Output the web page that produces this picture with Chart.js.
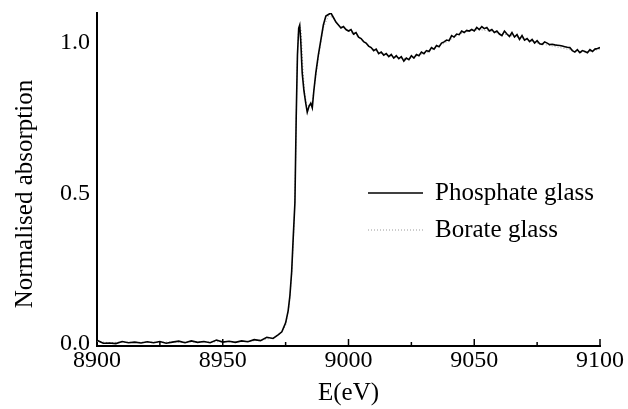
<!DOCTYPE html>
<html>
<head>
<meta charset="utf-8">
<script src="https://cdn.jsdelivr.net/npm/chart.js@4.4.1/dist/chart.umd.min.js"></script>
<style>
  body { margin: 0; background: #fff; }
  canvas { display: block; }
</style>
</head>
<body>
<canvas id="xanesChart" width="628" height="409"></canvas>
<script>
// --------------------- Data -------------------
const xTicks = [8900, 8950, 9000, 9050, 9100];
const yTicks = [0.0, 0.5, 1.0];
const seriesNames = ['Phosphate glass', 'Borate glass'];

const energyPhosphate = [
  8900, 8902.5, 8905, 8907.5, 8910, 8912.5, 8915, 8917.5, 8920, 8922.5,
  8925, 8927.5, 8930, 8932.5, 8935, 8937.5, 8940, 8942.5, 8945, 8947.5,
  8950, 8952.5, 8955, 8957.5, 8960, 8962.5, 8965, 8967.5, 8970, 8972,
  8973.5, 8975, 8976, 8976.7, 8977.4, 8978, 8978.7, 8979.2, 8979.7, 8980.2,
  8980.6, 8981, 8981.6, 8982.3, 8983, 8983.6, 8984.3, 8985, 8985.6, 8986.2,
  8987, 8988, 8989, 8990, 8991, 8992, 8993, 8994, 8995, 8996,
  8997, 8998, 8999, 9000, 9001, 9002, 9003, 9004, 9005, 9006,
  9007, 9008, 9009, 9010, 9011, 9012, 9013, 9014, 9015, 9016,
  9017, 9018, 9019, 9020, 9021, 9022, 9023, 9024, 9025, 9026,
  9027, 9028, 9029, 9030, 9031, 9032, 9033, 9034, 9035, 9036,
  9037, 9038, 9039, 9040, 9041, 9042, 9043, 9044, 9045, 9046,
  9047, 9048, 9049, 9050, 9051, 9052, 9053, 9054, 9055, 9056,
  9057, 9058, 9059, 9060, 9061, 9062, 9063, 9064, 9065, 9066,
  9067, 9068, 9069, 9070, 9071, 9072, 9073, 9074, 9075, 9076,
  9077, 9078, 9079, 9080, 9081, 9082, 9083, 9084, 9085, 9086,
  9087, 9088, 9089, 9090, 9091, 9092, 9093, 9094, 9095, 9096,
  9097, 9098, 9099, 9100
];
const phosphate = [
  0.012, 0.002, 0.003, 0.001, 0.008, 0.004, 0.006, 0.003, 0.007, 0.004,
  0.008, 0.002, 0.006, 0.009, 0.004, 0.010, 0.005, 0.008, 0.004, 0.013,
  0.006, 0.009, 0.005, 0.010, 0.007, 0.014, 0.011, 0.022, 0.018, 0.030,
  0.040, 0.070, 0.110, 0.160, 0.240, 0.350, 0.470, 0.750, 0.960, 1.050,
  1.060, 1.010, 0.900, 0.840, 0.800, 0.770, 0.790, 0.800, 0.785, 0.840,
  0.900, 0.960, 1.010, 1.060, 1.090, 1.095, 1.100, 1.085, 1.070, 1.060,
  1.050, 1.055, 1.045, 1.040, 1.045, 1.030, 1.035, 1.020, 1.015, 1.005,
  1.000, 0.990, 0.985, 0.975, 0.980, 0.965, 0.970, 0.960, 0.965, 0.955,
  0.962, 0.950, 0.958, 0.948, 0.955, 0.940, 0.950, 0.945, 0.958, 0.950,
  0.962, 0.958, 0.970, 0.965, 0.975, 0.972, 0.985, 0.980, 0.992, 0.988,
  1.000, 1.004, 1.010, 1.008, 1.025, 1.020, 1.030, 1.028, 1.040, 1.035,
  1.042, 1.040, 1.045, 1.040, 1.052, 1.045, 1.055, 1.048, 1.052, 1.040,
  1.045, 1.035, 1.040, 1.030, 1.025, 1.040, 1.030, 1.022, 1.035, 1.020,
  1.028, 1.012, 1.025, 1.010, 1.015, 1.005, 1.012, 1.000, 1.008, 0.998,
  0.996, 1.004, 1.000, 0.995, 0.996, 0.994, 0.993, 0.992, 0.990, 0.988,
  0.986, 0.985, 0.975, 0.970, 0.978, 0.968, 0.975, 0.972, 0.968, 0.978,
  0.972, 0.980, 0.982, 0.985
];

const energyBorate = [
  8900, 8905, 8910, 8915, 8920, 8925, 8930, 8935, 8940, 8945,
  8950, 8955, 8960, 8965, 8970, 8973, 8975, 8976.5, 8977.5, 8978.4,
  8979, 8979.5, 8980, 8980.6, 8981.2, 8981.8, 8982.5, 8983.5, 8984.5, 8985.5,
  8986.5, 8988, 8990, 8992, 8994, 8996, 8998, 9000, 9004, 9008,
  9012, 9016, 9020, 9024, 9028, 9032, 9036, 9040, 9044, 9048,
  9052, 9056, 9060, 9064, 9068, 9072, 9076, 9080, 9084, 9088,
  9092, 9096, 9100
];
const borate = [
  0.008, 0.004, 0.006, 0.005, 0.006, 0.005, 0.007, 0.006, 0.007, 0.006,
  0.008, 0.007, 0.009, 0.012, 0.020, 0.034, 0.060, 0.130, 0.240, 0.400,
  0.620, 0.900, 1.030, 1.060, 1.040, 0.930, 0.840, 0.790, 0.795, 0.800,
  0.860, 0.950, 1.050, 1.090, 1.085, 1.060, 1.050, 1.040, 1.020, 0.990,
  0.968, 0.958, 0.950, 0.948, 0.960, 0.972, 0.990, 1.008, 1.030, 1.040,
  1.045, 1.040, 1.032, 1.026, 1.018, 1.008, 0.998, 0.992, 0.985, 0.978,
  0.970, 0.972, 0.980
];

// --------------------- Helpers -------------------
function toPoints(xs, ys) {
  return xs.map((x, i) => ({ x: x, y: ys[i] }));
}

const serif = "'Liberation Serif', 'DejaVu Serif', serif";

// Inward tick marks on the energy axis, the y title and the inset legend
const figureExtras = {
  id: 'figureExtras',
  afterDraw(chart) {
    const ctx = chart.ctx;
    const xs = chart.scales.x;
    const area = chart.chartArea;
    ctx.save();
    ctx.strokeStyle = '#000';
    ctx.lineWidth = 1.5;
    for (let e = 8925; e <= 9100; e += 25) {
      const px = xs.getPixelForValue(e);
      const len = e % 50 === 0 ? 7 : 4;
      ctx.beginPath();
      ctx.moveTo(px, area.bottom);
      ctx.lineTo(px, area.bottom - len);
      ctx.stroke();
    }

    // y axis title
    ctx.fillStyle = '#000';
    ctx.font = '25px ' + serif;
    ctx.textAlign = 'center';
    ctx.textBaseline = 'middle';
    ctx.translate(25, 194);
    ctx.rotate(-Math.PI / 2);
    ctx.fillText('Normalised absorption', 0, 0);
    ctx.restore();

    // legend
    ctx.save();
    ctx.font = '25px ' + serif;
    ctx.fillStyle = '#000';
    ctx.textAlign = 'left';
    ctx.textBaseline = 'alphabetic';
    const rows = [{ y: 193, base: 200 }, { y: 230, base: 237 }];
    chart.data.datasets.forEach((ds, i) => {
      ctx.beginPath();
      ctx.strokeStyle = ds.borderColor;
      ctx.lineWidth = ds.borderWidth;
      ctx.setLineDash(ds.borderDash || []);
      ctx.moveTo(368, rows[i].y);
      ctx.lineTo(423, rows[i].y);
      ctx.stroke();
      ctx.fillText(ds.label, 435, rows[i].base);
    });
    ctx.restore();
  }
};

// --------------------- Chart -------------------
const ctx = document.getElementById('xanesChart').getContext('2d');
const xanesChart = new Chart(ctx, {
  type: 'line',
  data: {
    datasets: [{
      label: seriesNames[0],
      data: toPoints(energyPhosphate, phosphate),
      borderColor: '#000',
      borderWidth: 1.6,
      pointRadius: 0,
      tension: 0,
      fill: false
    }, {
      label: seriesNames[1],
      data: toPoints(energyBorate, borate),
      borderColor: '#9a9a9a',
      borderWidth: 1,
      borderDash: [1, 2],
      pointRadius: 0,
      tension: 0,
      fill: false
    }]
  },
  options: {
    responsive: false,
    animation: false,
    devicePixelRatio: 1,
    layout: { padding: { top: 13, right: 28, left: 0, bottom: 0 } },
    plugins: {
      legend: { display: false },
      tooltip: { enabled: false }
    },
    scales: {
      x: {
        type: 'linear',
        min: 8900,
        max: 9100,
        afterBuildTicks: s => { s.ticks = xTicks.map(v => ({ value: v })); },
        afterFit: s => { s.height = 63; },
        ticks: {
          color: '#000',
          padding: 0,
          maxRotation: 0,
          font: { family: serif, size: 24 },
          callback: v => String(v)
        },
        grid: { display: false, drawTicks: false },
        border: { display: true, color: '#000', width: 2 },
        title: {
          display: true,
          text: 'E(eV)',
          color: '#000',
          font: { family: serif, size: 25 },
          padding: { top: 0, bottom: 1 }
        }
      },
      y: {
        type: 'linear',
        min: -0.007,
        max: 1.1,
        afterBuildTicks: s => { s.ticks = yTicks.map(v => ({ value: v })); },
        afterFit: s => { s.width = 97; s.paddingTop = 0; },
        ticks: {
          color: '#000',
          padding: 7,
          font: { family: serif, size: 24 },
          callback: v => v.toFixed(1)
        },
        grid: { display: false, drawTicks: false },
        border: { display: true, color: '#000', width: 2 }
      }
    }
  },
  plugins: [figureExtras]
});
</script>
</body>
</html>
